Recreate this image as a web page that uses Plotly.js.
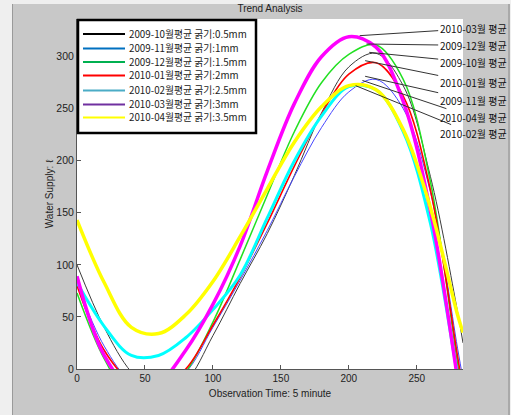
<!DOCTYPE html>
<html>
<head>
<meta charset="utf-8">
<script src="https://cdn.plot.ly/plotly-3.0.1.min.js"></script>
<style>html,body{margin:0;padding:0;background:#c8c8c8;}#chart{width:511px;height:415px;}</style>
</head>
<body>
<div id="chart"></div>
<script>
// Observation time (5-minute steps)
const obsTime = [0,20,40,60,80,100,120,140,160,180,200,220,240,260,280,284];
// Trend values (water supply, litres)
const avg_2009_10 = [100, 40, -3, -25, -12, 32, 82, 130, 186, 246, 290, 303, 272, 185, 55, 25];
const avg_2009_11 = [82, 22, -12, -18, -3, 40, 85, 133, 185, 232, 266, 278, 250, 170, 20, -10];
const avg_2009_12 = [73, 10, -28, -30, -3, 45, 105, 167, 228, 275, 302, 311, 278, 180, 5, -25];
const avg_2010_01 = [80, 18, -12, -17, 0, 42, 88, 140, 195, 245, 283, 294, 262, 172, 12, -20];
const avg_2010_02 = [83, 41, 13, 13, 30, 57, 90, 145, 200, 243, 271, 268, 228, 140, -5, -30];
const avg_2010_03 = [89, 13, -18, -13, 18, 62, 118, 190, 255, 300, 319, 309, 257, 152, -10, -49];
const avg_2010_04 = [143, 83, 40, 34, 52, 84, 127, 173, 218, 252, 272, 268, 230, 155, 52, 35];

const legendLabels = ['2009-10월평균 굵기:0.5mm','2009-11월평균 굵기:1mm','2009-12월평균 굵기:1.5mm',
  '2010-01월평균 굵기:2mm','2010-02월평균 굵기:2.5mm','2010-03월평균 굵기:3mm','2010-04월평균 굵기:3.5mm'];
const peakLabels = ['2010-03월 평균','2009-12월 평균','2009-10월 평균','2010-01월 평균','2009-11월 평균','2010-04월 평균','2010-02월 평균'];
// where each peak label's leader line touches its curve (time, litres)
const peakTime = [208, 213, 215, 212, 212, 210, 205];
const peakValue = [320, 312, 304, 296, 281, 277, 272];
const labelValue = [327, 310.6, 294.2, 275, 257.7, 241.3, 226];

const series = [avg_2009_10, avg_2009_11, avg_2009_12, avg_2010_01, avg_2010_02, avg_2010_03, avg_2010_04];
const lineColors = ['#3c3c3c', '#4646ff', '#22e022', '#ff0000', '#00ffff', '#ff00ff', '#ffff00'];
const lineWidths = [1, 1, 1.5, 1.6, 3, 3.5, 3.5];
const legendColors = ['#000000', '#0070c0', '#00b050', '#ff0000', '#4bacc6', '#7030a0', '#ffff00'];

const traces = series.map((s, i) => ({
  x: obsTime, y: s, type: 'scatter', mode: 'lines',
  line: {color: lineColors[i], width: lineWidths[i], shape: 'spline', smoothing: 1},
  name: legendLabels[i], showlegend: false, hoverinfo: 'skip'
}));

// pixel geometry of plot area
const L = 77, R = 48, T = 19, B = 46, W = 511, H = 415;
const pw = W - L - R, ph = H - T - B;
const px = v => (v - L) / pw;          // page x -> paper
const py = v => (H - B - v) / ph;      // page y -> paper

const shapes = [
  // window frame
  {type:'rect', xref:'paper', yref:'paper', x0:px(0), x1:px(12), y0:py(415), y1:py(0), fillcolor:'#efefef', line:{width:0}, layer:'below'},
  {type:'rect', xref:'paper', yref:'paper', x0:px(0), x1:px(511), y0:py(4), y1:py(0), fillcolor:'#efefef', line:{width:0}, layer:'below'},
  {type:'line', xref:'paper', yref:'paper', x0:px(12.5), x1:px(12.5), y0:py(415), y1:py(4), line:{color:'#9a9a9a', width:1}, layer:'below'},
  {type:'line', xref:'paper', yref:'paper', x0:px(509), x1:px(509), y0:py(415), y1:py(4), line:{color:'#8a8a8a', width:1}, layer:'below'},
  {type:'rect', xref:'paper', yref:'paper', x0:px(510), x1:px(511), y0:py(415), y1:py(4), fillcolor:'#efefef', line:{width:0}, layer:'below'},
  // legend box
  {type:'rect', xref:'paper', yref:'paper', x0:px(78), x1:px(256), y0:py(133), y1:py(20), fillcolor:'#ffffff', line:{color:'#000', width:2.5}, layer:'above'}
];
const legendY = [34, 48.5, 62, 75.5, 90.5, 104.5, 117.5];
const annotations = [];
legendLabels.forEach((lab, i) => {
  shapes.push({type:'line', xref:'paper', yref:'paper', x0:px(83), x1:px(125), y0:py(legendY[i]), y1:py(legendY[i]),
    line:{color:legendColors[i], width:2}, layer:'above'});
  annotations.push({xref:'paper', yref:'paper', x:px(128), y:py(legendY[i] - 0.5), xanchor:'left', yanchor:'middle',
    text: lab, showarrow:false, borderpad: 0, font:{family:'Noto Sans CJK KR', size:9.8, color:'#222'}});
});
peakLabels.forEach((lab, i) => {
  annotations.push({x: peakTime[i], y: peakValue[i], xref:'x', yref:'y', axref:'x', ayref:'y',
    ax: 291.5, ay: labelValue[i], text: lab, showarrow: true, arrowhead: 0, arrowwidth: 1, arrowcolor: '#333',
    standoff: 0, startstandoff: 0, borderpad: 1,
    font:{family:'Noto Sans CJK KR', size:10, color:'#111'}});
});

const layout = {
  width: W, height: H,
  margin: {l: L, r: R, t: T, b: B, pad: 0},
  paper_bgcolor: '#c8c8c8', plot_bgcolor: '#ffffff',
  font: {family: 'Liberation Sans, Arial, sans-serif', size: 10, color: '#222'},
  title: {text: 'Trend Analysis', font: {size: 10, color: '#222'}, x: 0.5, xref: 'paper', y: 1 - 8/415, yref: 'container', yanchor: 'middle'},
  xaxis: {range: [0, 284], tickvals: [0,50,100,150,200,250], ticks: 'inside', ticklen: 4, tickcolor: '#555',
    showline: true, linecolor: '#555', linewidth: 1, showgrid: false, zeroline: false,
    tickfont: {size: 10, color: '#222'},
    title: {text: 'Observation Time: 5 minute', font: {size: 10, color: '#222'}, standoff: 6}},
  yaxis: {range: [0, 336], tickvals: [0,50,100,150,200,250,300], ticks: 'inside', ticklen: 4, tickcolor: '#555',
    showline: true, linecolor: '#555', linewidth: 1, showgrid: false, zeroline: false,
    tickfont: {size: 10.5, color: '#222'},
    title: {text: 'Water Supply: ℓ', font: {size: 10, color: '#222'}, standoff: 0}},
  shapes: shapes, annotations: annotations, showlegend: false
};
Plotly.newPlot('chart', traces, layout, {displayModeBar: false, staticPlot: true});
</script>
</body>
</html>
